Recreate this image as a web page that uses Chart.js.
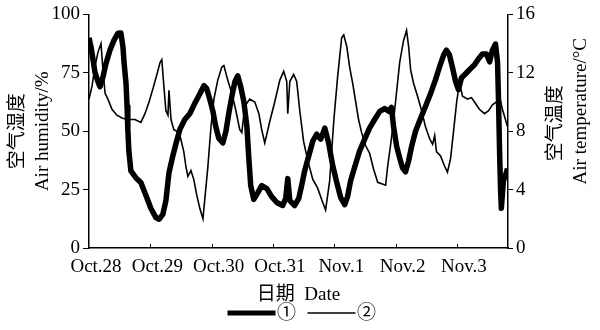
<!DOCTYPE html>
<html>
<head>
<meta charset="utf-8">
<script src="https://cdn.jsdelivr.net/npm/chart.js@4.4.0/dist/chart.umd.min.js"></script>
<style>
html, body { margin: 0; padding: 0; background: #fff; }
</style>
</head>
<body>
<canvas id="chart" width="600" height="330"></canvas>
<script>
// x values are hours counted from Oct.28 00:00
var dateLabels = ["Oct.28", "Oct.29", "Oct.30", "Oct.31", "Nov.1", "Nov.2", "Nov.3"];

// ① air humidity (%), thick line, left axis
var humHours = [0,0.8,1.6,2.3,3.5,4.3,5.5,6.6,8.2,9.8,11.3,12.5,13.3,13.7,14.5,14.9,15.2,15.6,16.4,18.4,
  20.3,22.3,24.2,26.2,27.4,28.9,30.1,31.3,32.8,34,35.6,37.5,39.5,41.4,43.4,45,46.1,47.3,48.5,49.6,
  50.8,52.4,53.6,54.7,55.9,57.1,58.2,59.4,60.6,61.8,62.5,63.3,64.5,66.1,67.6,69.6,71.5,73.5,75.8,77,
  77.8,78.6,80.5,82.1,83.3,84.4,86,87.6,89.1,90.7,92.3,93.8,95.4,97,98.5,100.1,101.2,102.4,104,105.9,
  107.9,109.8,111.8,113.8,115.7,117.3,118.4,119.2,120.4,121.6,122.7,123.9,125.1,126.3,127.8,129.8,131.7,133.7,135.6,137.2,
  138.8,139.9,141.1,142.3,143.5,144.6,145.8,147.4,148.9,150.9,152.4,154,155.6,156.8,157.9,159.1,159.9,160.3,160.7,161.1,
  161.4,162.2,163,163.8];
var humidity = [90,86,80.5,75.4,71.2,69,73.3,78.8,84.7,89,91.9,92,86,79.7,70.3,60.6,50.8,41.5,33,30,
  28,22.5,17,13,12.3,14.4,20.3,32.2,39.4,44.5,50.8,55,57.6,61.9,66,69.5,68.2,63.6,58.5,52,
  47,45,50,57.6,64.8,71.2,73.7,69,62.7,52,39.4,26.7,20.8,23.7,26.7,25.4,22,19.5,18.2,21.2,
  29.7,20.3,18.2,21.2,27.1,33,39.4,45.8,48.7,46.6,51.3,44.9,35.2,28,21.6,18.6,22,28.8,34.7,41.5,
  46.6,51.3,55,58.5,59.7,58.5,60.2,52,43.6,38.6,34.3,32.6,37.3,43.6,50,55.5,60.6,66.1,72,77.5,
  82.6,84.7,82.6,77.1,71.2,67.8,72.9,74.6,76.3,78.4,80.9,83,83,79.7,84.7,87.3,79.7,62.7,41.5,24.6,
  17,28.8,31,34];

// ② air temperature (°C), thin line, right axis
var tempHours = [0,1.2,2.3,3.5,4.7,5.5,6.3,7.4,9,10.9,12.9,14.9,18,20.3,21.9,23.5,25,26.6,27.8,28.5,
  29.3,30.1,30.9,31.3,32.1,33.2,34.4,35.6,37.1,37.9,38.7,39.9,41,42.2,43.4,44.6,45.3,46.5,47.7,48.9,
  50.4,52,52.8,54.3,55.9,57.5,59,59.8,61,62.9,64.9,66.5,67.6,68.8,70.8,72.7,74.7,76.2,77.4,77.8,
  78.6,80.1,81.3,82.5,84,85.6,87.6,89.5,91.1,92.6,94.2,95.8,97.3,98.9,99.7,100.9,102,103.2,104.4,105.5,
  106.7,108.3,109.8,111.4,113,116.1,116.9,118,119.2,120.4,121.6,123.1,124.3,125.1,125.9,127,128.6,130.2,131.7,133.3,
  134.5,135.3,136,137.6,139.2,140.3,141.5,142.7,143.9,145,146.2,148.2,149.7,151.3,152.8,154.8,156.4,157.9,159.5,160.7,
  161.8,163,163.8];
var temperature = [10.2,11.1,12.4,13.4,14.0,12.1,10.6,10.2,9.5,9.1,8.9,8.8,8.8,8.6,9.2,10.0,10.9,11.9,12.7,12.9,
  11.1,9.4,9.1,10.8,8.8,8.1,8.0,7.7,6.6,5.6,4.9,5.3,4.7,3.6,2.7,2.0,3.3,5.5,8.2,10.2,
  11.5,12.4,12.5,11.5,10.6,9.4,8.1,7.9,9.7,10.2,10.0,9.2,8.1,7.2,8.7,10.0,11.5,12.1,11.4,9.2,
  11.4,11.9,11.4,9.4,7.3,6.0,4.7,4.1,3.3,2.6,4.6,8.7,11.7,14.4,14.6,13.8,12.4,11.3,10.0,8.8,
  7.9,7.0,6.5,5.4,4.5,4.3,5.6,7.0,8.7,10.7,12.7,14.2,14.9,13.8,12.2,11.3,10.4,9.4,8.3,7.5,
  7.1,7.7,6.6,6.3,5.6,5.2,6.1,8.0,10.0,11.3,10.4,10.2,10.3,9.9,9.5,9.2,9.4,9.8,10.0,10.4,
  9.5,8.8,8.3];

var serif = '"Liberation Serif", "Times New Roman", "Noto Sans CJK SC", serif';

function pairs(xs, ys) {
  return xs.map(function (h, i) { return { x: h, y: ys[i] }; });
}

// inward day ticks, right-hand axis title (reads bottom to top) and the legend row
var extras = {
  id: 'extras',
  afterDraw: function (chart) {
    var c = chart.ctx, a = chart.chartArea, xs = chart.scales.x;
    c.save();
    c.strokeStyle = '#000';
    c.lineWidth = 1;
    for (var i = 1; i < dateLabels.length; i++) {
      var px = Math.round(xs.getPixelForValue(i * 24)) + 0.5;
      c.beginPath();
      c.moveTo(px, a.bottom);
      c.lineTo(px, a.bottom - 4);
      c.stroke();
    }
    c.fillStyle = '#000';
    c.textAlign = 'center';
    c.textBaseline = 'middle';
    c.font = '19px ' + serif;

    // legend
    var cx = (a.left + a.right) / 2, ly = 313;
    chart.data.datasets.forEach(function (ds, k) {
      var x0 = cx - 71 + k * 80;
      c.lineWidth = k === 0 ? 5 : 1.5;
      c.beginPath();
      c.moveTo(x0, ly);
      c.lineTo(x0 + 48, ly);
      c.stroke();
      c.fillText(ds.label, x0 + 59, ly + 1);
    });

    var mid = (a.top + a.bottom) / 2;
    c.save();
    c.translate(a.right + 48, mid - 8);
    c.rotate(-Math.PI / 2);
    c.fillText('空气温度', 0, 0);
    c.restore();
    c.save();
    c.translate(a.right + 73, mid - 20);
    c.rotate(-Math.PI / 2);
    c.fillText('Air temperature/°C', 0, 0);
    c.restore();
    c.restore();
  }
};

new Chart(document.getElementById('chart'), {
  type: 'line',
  data: {
    datasets: [{
      label: '①',
      data: pairs(humHours, humidity),
      yAxisID: 'y',
      borderColor: '#000',
      borderWidth: 5.5,
      pointRadius: 0,
      tension: 0,
      borderJoinStyle: 'round'
    }, {
      label: '②',
      data: pairs(tempHours, temperature),
      yAxisID: 'y2',
      borderColor: '#000',
      borderWidth: 1.6,
      pointRadius: 0,
      tension: 0
    }]
  },
  options: {
    responsive: false,
    animation: false,
    layout: { padding: { top: 12, left: 0, right: 0, bottom: 0 } },
    plugins: {
      tooltip: { enabled: false },
      legend: { display: false }
    },
    scales: {
      x: {
        type: 'linear',
        min: 0,
        max: 164,
        grid: { display: false },
        border: { color: '#000', width: 1.5 },
        ticks: {
          stepSize: 24,
          includeBounds: false,
          autoSkip: false,
          maxRotation: 0,
          labelOffset: 7,
          padding: 0,
          color: '#000',
          font: { family: serif, size: 19 },
          callback: function (v) { return dateLabels[v / 24] || ''; }
        },
        title: {
          display: true,
          text: '日期  Date',
          color: '#000',
          font: { family: serif, size: 19 },
          padding: { top: 0, bottom: 24 }
        },
        afterFit: function (s) { s.height = 82; }
      },
      y: {
        position: 'left',
        min: 0,
        max: 100,
        grid: { drawOnChartArea: false, color: '#000', tickLength: 6 },
        border: { color: '#000', width: 1.5 },
        ticks: { stepSize: 25, padding: 3, color: '#000', font: { family: serif, size: 19 } },
        title: {
          display: true,
          text: ['空气湿度', 'Air humidity/%'],
          color: '#000',
          font: { family: serif, size: 19, lineHeight: 1.3 },
          padding: { top: 6, bottom: 0 }
        },
        afterFit: function (s) { s.width = 89; }
      },
      y2: {
        position: 'right',
        min: 0,
        max: 16,
        grid: { drawOnChartArea: false, color: '#000', tickLength: 5 },
        border: { color: '#000', width: 1.5 },
        ticks: { stepSize: 4, padding: 3, color: '#000', font: { family: serif, size: 19 } },
        afterFit: function (s) { s.width = 92; }
      }
    }
  },
  plugins: [extras]
});
</script>
</body>
</html>
